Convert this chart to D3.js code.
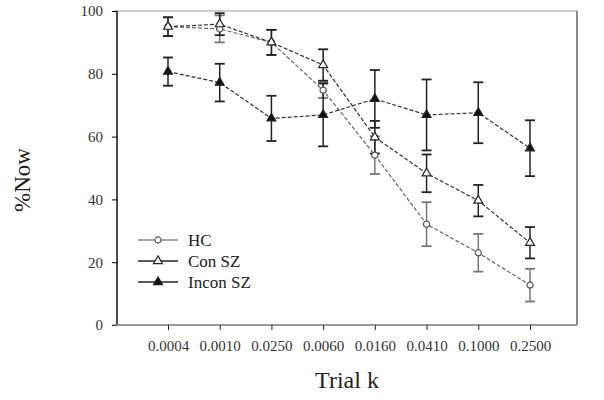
<!DOCTYPE html>
<html><head><meta charset="utf-8">
<script src="https://cdn.jsdelivr.net/npm/d3@7"></script>
<style>body{margin:0;background:#fff}svg{display:block}</style>
</head><body><svg id="c" width="604" height="400"></svg>
<script>
const categories = ["0.0004","0.0010","0.0250","0.0060","0.0160","0.0410","0.1000","0.2500"];
const hcValues    = [95.0, 94.3, 90.0, 74.8, 54.1, 32.1, 23.0, 12.7];
const hcErr       = [3.0, 4.3, 4.0, 2.5, 6.0, 7.0, 6.0, 5.2];
const conValues   = [95.0, 95.8, 90.0, 82.8, 59.8, 48.3, 39.6, 26.2];
const conErr      = [3.0, 3.5, 4.0, 5.0, 5.2, 6.0, 5.0, 5.0];
const inconValues = [80.7, 77.2, 65.8, 66.9, 72.0, 66.9, 67.6, 56.3];
const inconErr    = [4.5, 6.0, 7.2, 10.0, 9.2, 11.3, 9.7, 8.9];
const yTicks = [0, 20, 40, 60, 80, 100];
const seriesNames = ["HC", "Con SZ", "Incon SZ"];

const svg = d3.select("#c");
const font = "'Liberation Serif', 'Times New Roman', serif";
const L = 117, R = 577, T = 11, B = 325;

const x = d3.scalePoint().domain(categories).range([168, 530]);
const y = d3.scaleLinear().domain([0, 100]).range([B, T]);

// frame
svg.append("line").attr("x1", L - 4).attr("x2", R).attr("y1", T).attr("y2", T).attr("stroke", "#ccc").attr("stroke-width", 2);
svg.append("line").attr("x1", R).attr("x2", R).attr("y1", T).attr("y2", B).attr("stroke", "#666").attr("stroke-width", 1.5);

// axes
const yAxis = svg.append("g").attr("transform", `translate(${L},0)`)
  .call(d3.axisLeft(y).tickValues(yTicks).tickSize(5).tickPadding(9));
yAxis.select(".domain").attr("stroke", "#111").attr("stroke-width", 1.5).attr("d", `M0,${T}V${B}`);
yAxis.selectAll("text").attr("font-family", font).attr("font-size", 15).attr("fill", "#333");

const xAxis = svg.append("g").attr("transform", `translate(0,${B})`)
  .call(d3.axisBottom(x).tickSize(5).tickPadding(10));
xAxis.select(".domain").attr("stroke", "#777").attr("stroke-width", 1.5).attr("d", `M${L - 4},0H${R}`);
xAxis.selectAll(".tick line").attr("stroke", "#222");
xAxis.selectAll("text").attr("font-family", font).attr("font-size", 15).attr("fill", "#333");

// axis titles
svg.append("text").attr("x", 347).attr("y", 388).attr("text-anchor", "middle")
  .attr("font-family", font).attr("font-size", 24).attr("fill", "#222").text("Trial k");
svg.append("text").attr("transform", "translate(30,180) rotate(-90)").attr("text-anchor", "middle")
  .attr("font-family", font).attr("font-size", 23).attr("fill", "#222").text("%Now");

const series = [
  {name: seriesNames[0], vals: hcValues, err: hcErr, line: "#666", bar: "#777", marker: "circle"},
  {name: seriesNames[1], vals: conValues, err: conErr, line: "#333", bar: "#222", marker: "tri"},
  {name: seriesNames[2], vals: inconValues, err: inconErr, line: "#333", bar: "#222", marker: "ftri"}
];

const line = d3.line().x((d, i) => x(categories[i])).y(d => y(d));
const triPath = d3.symbol().type(d3.symbolTriangle).size(34);
const circPath = d3.symbol().type(d3.symbolCircle).size(30);

function drawMarker(g, type, cx, cy) {
  if (type === "circle") {
    g.append("path").attr("d", circPath()).attr("transform", `translate(${cx},${cy})`)
      .attr("fill", "#fff").attr("stroke", "#555").attr("stroke-width", 1.2);
  } else {
    g.append("path").attr("d", triPath()).attr("transform", `translate(${cx},${cy})`)
      .attr("fill", type === "ftri" ? "#111" : "#fff").attr("stroke", "#222").attr("stroke-width", 1.2);
  }
}

series.forEach(s => {
  const g = svg.append("g");
  s.vals.forEach((v, i) => {
    const cx = x(categories[i]);
    const y1 = y(v + s.err[i]), y2 = y(v - s.err[i]);
    g.append("line").attr("x1", cx).attr("x2", cx).attr("y1", y1).attr("y2", y2).attr("stroke", s.bar).attr("stroke-width", 1.5);
    [y1, y2].forEach(yy => g.append("line").attr("x1", cx - 5).attr("x2", cx + 5).attr("y1", yy).attr("y2", yy).attr("stroke", s.bar).attr("stroke-width", 1.8));
  });
  g.append("path").attr("d", line(s.vals)).attr("fill", "none").attr("stroke", s.line)
    .attr("stroke-width", 1.2).attr("stroke-dasharray", "4,2");
});
series.forEach(s => {
  const g = svg.append("g");
  s.vals.forEach((v, i) => drawMarker(g, s.marker, x(categories[i]), y(v)));
});

// legend
const legY = [240, 261, 282];
series.forEach((s, i) => {
  const g = svg.append("g");
  g.append("line").attr("x1", 138).attr("x2", 178).attr("y1", legY[i]).attr("y2", legY[i])
    .attr("stroke", i === 0 ? "#888" : "#222").attr("stroke-width", 1.3);
  drawMarker(g, s.marker, 158, legY[i]);
  g.append("text").attr("x", 188).attr("y", legY[i] + 6).attr("font-family", font).attr("font-size", 17)
    .attr("fill", "#222").text(s.name);
});
</script></body></html>
